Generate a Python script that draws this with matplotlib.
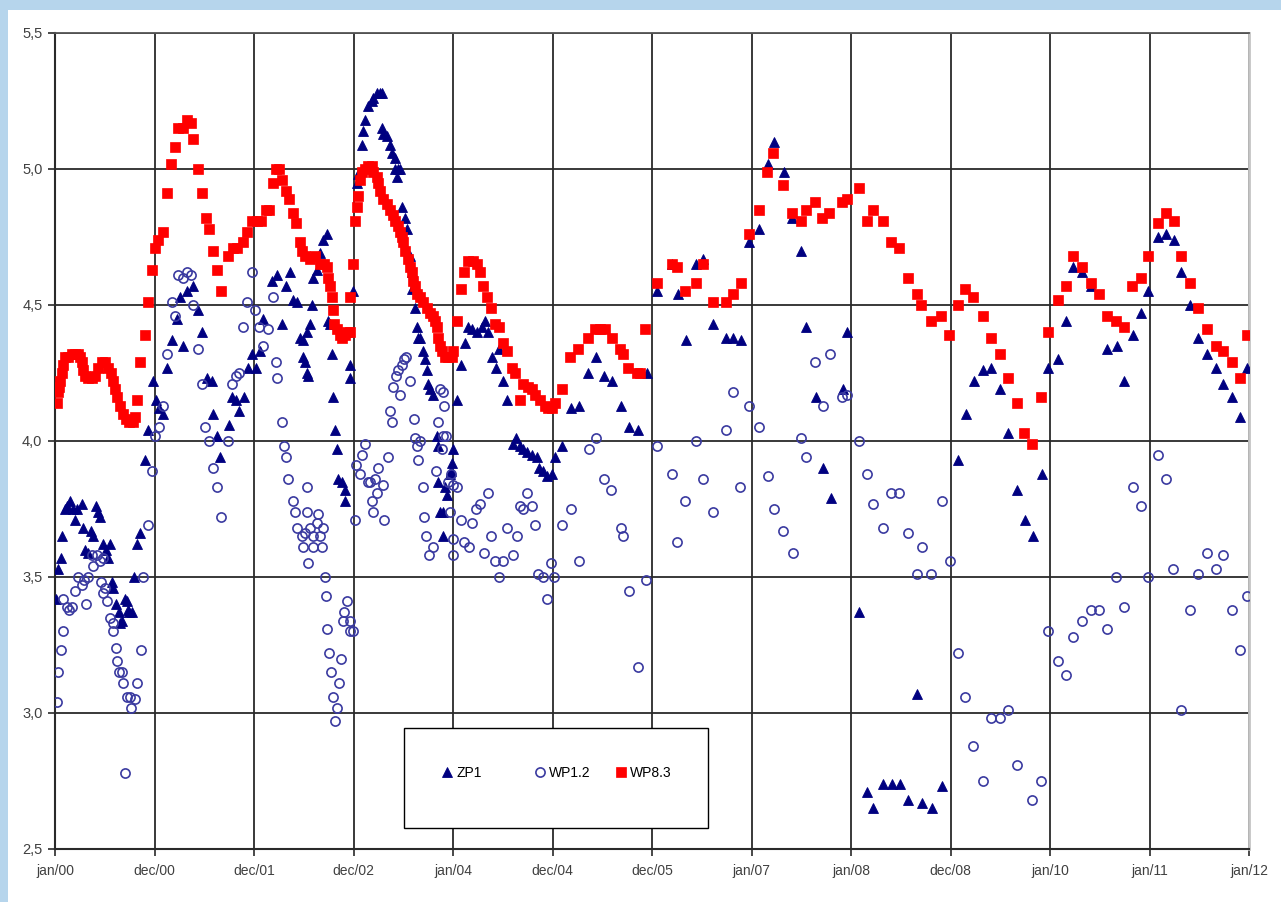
import matplotlib
matplotlib.use("Agg")
import matplotlib.pyplot as plt
from matplotlib.patches import Rectangle
from matplotlib.lines import Line2D
from matplotlib.legend import Legend

plt.rcParams['font.family'] = ['Liberation Sans', 'DejaVu Sans']

# x = years since jan/00, y = level
tick_labels = ["jan/00", "dec/00", "dec/01", "dec/02", "jan/04", "dec/04", "dec/05",
               "jan/07", "jan/08", "dec/08", "jan/10", "jan/11", "jan/12"]
y_ticks = [2.5, 3.0, 3.5, 4.0, 4.5, 5.0, 5.5]
y_tick_labels = ["2,5", "3,0", "3,5", "4,0", "4,5", "5,0", "5,5"]

zp1 = [
    (0.01, 3.42), (0.03, 3.53), (0.06, 3.57), (0.07, 3.65), (0.10, 3.75), (0.12, 3.76), (0.15, 3.78),
    (0.18, 3.75), (0.20, 3.71), (0.22, 3.75), (0.27, 3.77), (0.28, 3.68), (0.30, 3.60), (0.33, 3.59),
    (0.36, 3.67), (0.38, 3.65), (0.41, 3.76), (0.43, 3.74), (0.45, 3.72), (0.48, 3.62), (0.51, 3.60),
    (0.53, 3.57), (0.55, 3.62), (0.57, 3.48), (0.58, 3.46), (0.61, 3.40), (0.64, 3.37), (0.65, 3.33),
    (0.67, 3.34), (0.70, 3.42), (0.72, 3.41), (0.73, 3.38), (0.74, 3.37), (0.77, 3.37), (0.79, 3.50),
    (0.82, 3.62), (0.85, 3.66), (0.90, 3.93), (0.93, 4.04), (0.98, 4.22), (1.02, 4.15), (1.05, 4.12),
    (1.09, 4.10), (1.13, 4.27), (1.18, 4.37), (1.23, 4.45), (1.26, 4.53), (1.29, 4.35), (1.33, 4.55),
    (1.39, 4.57), (1.44, 4.48), (1.48, 4.40), (1.53, 4.23), (1.58, 4.22), (1.59, 4.10), (1.63, 4.02),
    (1.66, 3.94), (1.75, 4.06), (1.78, 4.16), (1.82, 4.15), (1.85, 4.11), (1.90, 4.16), (1.94, 4.27),
    (1.98, 4.32), (2.02, 4.27), (2.06, 4.33), (2.09, 4.45), (2.18, 4.59), (2.23, 4.61), (2.28, 4.43),
    (2.32, 4.57), (2.36, 4.62), (2.39, 4.52), (2.43, 4.51), (2.46, 4.38), (2.49, 4.37), (2.53, 4.40),
    (2.49, 4.31), (2.51, 4.29), (2.53, 4.25), (2.54, 4.24), (2.56, 4.43), (2.58, 4.50), (2.59, 4.60),
    (2.63, 4.63), (2.66, 4.69), (2.69, 4.74), (2.73, 4.76), (2.74, 4.44), (2.76, 4.43), (2.78, 4.32),
    (2.79, 4.16), (2.81, 4.04), (2.83, 3.97), (2.84, 3.86), (2.88, 3.85), (2.91, 3.82), (2.91, 3.78),
    (2.96, 4.28), (2.96, 4.23), (2.99, 4.55), (3.04, 4.95), (3.05, 4.98), (3.09, 5.09), (3.10, 5.14),
    (3.12, 5.18), (3.15, 5.23), (3.19, 5.25), (3.20, 5.26), (3.24, 5.28), (3.27, 5.28), (3.29, 5.28),
    (3.29, 5.15), (3.30, 5.13), (3.34, 5.12), (3.37, 5.09), (3.39, 5.06), (3.42, 5.04), (3.42, 5.00),
    (3.45, 5.00), (3.47, 5.00), (3.44, 4.97), (3.49, 4.86), (3.52, 4.82), (3.54, 4.78), (3.57, 4.68),
    (3.59, 4.62), (3.59, 4.56), (3.62, 4.49), (3.64, 4.42), (3.65, 4.38), (3.67, 4.38), (3.70, 4.33),
    (3.72, 4.30), (3.74, 4.26), (3.75, 4.21), (3.77, 4.19), (3.80, 4.17), (3.84, 4.02), (3.85, 3.98),
    (3.85, 3.85), (3.87, 3.74), (3.90, 3.74), (3.90, 3.65), (3.92, 3.83), (3.94, 3.80), (3.97, 3.88),
    (3.98, 3.89), (3.99, 3.92), (4.00, 3.97), (4.04, 4.15), (4.08, 4.28), (4.12, 4.36), (4.15, 4.42),
    (4.19, 4.41), (4.24, 4.40), (4.29, 4.42), (4.32, 4.44), (4.35, 4.40), (4.39, 4.31), (4.43, 4.27),
    (4.46, 4.34), (4.50, 4.22), (4.54, 4.15), (4.60, 3.99), (4.63, 4.01), (4.67, 3.98), (4.70, 3.97),
    (4.74, 3.96), (4.79, 3.95), (4.84, 3.94), (4.86, 3.90), (4.90, 3.89), (4.94, 3.87), (4.99, 3.88),
    (5.03, 3.94), (5.10, 3.98), (5.19, 4.12), (5.27, 4.13), (5.36, 4.25), (5.44, 4.31), (5.52, 4.24),
    (5.60, 4.22), (5.69, 4.13), (5.77, 4.05), (5.86, 4.04), (5.95, 4.25), (6.05, 4.55), (6.20, 4.65),
    (6.26, 4.54), (6.34, 4.37), (6.44, 4.65), (6.51, 4.67), (6.61, 4.43), (6.74, 4.38), (6.81, 4.38),
    (6.89, 4.37), (6.97, 4.73), (7.08, 4.78), (7.17, 5.02), (7.23, 5.10), (7.33, 4.99), (7.41, 4.82),
    (7.50, 4.70), (7.55, 4.42), (7.65, 4.16), (7.72, 3.90), (7.80, 3.79), (7.92, 4.19), (7.96, 4.40),
    (8.08, 3.37), (8.16, 2.71), (8.22, 2.65), (8.32, 2.74), (8.41, 2.74), (8.49, 2.74), (8.57, 2.68),
    (8.66, 3.07), (8.71, 2.67), (8.81, 2.65), (8.91, 2.73), (9.08, 3.93), (9.16, 4.10), (9.24, 4.22),
    (9.33, 4.26), (9.41, 4.27), (9.50, 4.19), (9.58, 4.03), (9.67, 3.82), (9.75, 3.71), (9.83, 3.65),
    (9.92, 3.88), (9.98, 4.27), (10.08, 4.30), (10.16, 4.44), (10.23, 4.64), (10.32, 4.62), (10.41, 4.57),
    (10.57, 4.34), (10.67, 4.35), (10.74, 4.22), (10.83, 4.39), (10.91, 4.47), (10.98, 4.55), (11.09, 4.75),
    (11.17, 4.76), (11.25, 4.74), (11.32, 4.62), (11.41, 4.50), (11.49, 4.38), (11.58, 4.32), (11.67, 4.27),
    (11.74, 4.21), (11.83, 4.16), (11.91, 4.09), (11.98, 4.27),
]

wp12 = [
    (0.02, 3.04), (0.03, 3.15), (0.06, 3.23), (0.08, 3.30), (0.08, 3.42), (0.12, 3.39), (0.14, 3.38),
    (0.17, 3.39), (0.20, 3.45), (0.23, 3.50), (0.27, 3.47), (0.29, 3.49), (0.31, 3.40), (0.33, 3.50),
    (0.37, 3.58), (0.38, 3.54), (0.42, 3.58), (0.45, 3.56), (0.48, 3.57), (0.46, 3.48), (0.48, 3.44),
    (0.50, 3.46), (0.52, 3.41), (0.55, 3.35), (0.58, 3.33), (0.58, 3.30), (0.61, 3.24), (0.62, 3.19),
    (0.64, 3.15), (0.67, 3.15), (0.68, 3.11), (0.72, 3.06), (0.75, 3.06), (0.76, 3.02), (0.80, 3.05),
    (0.82, 3.11), (0.86, 3.23), (0.70, 2.78), (0.88, 3.50), (0.93, 3.69), (0.97, 3.89), (1.01, 4.02),
    (1.05, 4.05), (1.09, 4.13), (1.13, 4.32), (1.18, 4.51), (1.21, 4.46), (1.24, 4.61), (1.29, 4.60),
    (1.33, 4.62), (1.37, 4.61), (1.39, 4.50), (1.44, 4.34), (1.48, 4.21), (1.51, 4.05), (1.55, 4.00),
    (1.59, 3.90), (1.63, 3.83), (1.67, 3.72), (1.74, 4.00), (1.78, 4.21), (1.82, 4.24), (1.85, 4.25),
    (1.89, 4.42), (1.93, 4.51), (1.98, 4.62), (2.01, 4.48), (2.05, 4.42), (2.09, 4.35), (2.14, 4.41),
    (2.19, 4.53), (2.22, 4.29), (2.23, 4.23), (2.28, 4.07), (2.30, 3.98), (2.32, 3.94), (2.34, 3.86),
    (2.39, 3.78), (2.41, 3.74), (2.43, 3.68), (2.48, 3.65), (2.49, 3.61), (2.51, 3.66), (2.53, 3.83),
    (2.53, 3.74), (2.54, 3.55), (2.56, 3.68), (2.59, 3.65), (2.59, 3.61), (2.63, 3.70), (2.64, 3.73),
    (2.66, 3.65), (2.68, 3.61), (2.69, 3.68), (2.71, 3.50), (2.72, 3.43), (2.73, 3.31), (2.75, 3.22),
    (2.77, 3.15), (2.79, 3.06), (2.81, 2.97), (2.83, 3.02), (2.85, 3.11), (2.87, 3.20), (2.89, 3.34),
    (2.90, 3.37), (2.93, 3.41), (2.96, 3.34), (2.96, 3.30), (2.99, 3.30), (3.02, 3.71), (3.03, 3.91),
    (3.07, 3.88), (3.09, 3.95), (3.12, 3.99), (3.15, 3.85), (3.17, 3.85), (3.19, 3.78), (3.20, 3.74),
    (3.22, 3.86), (3.24, 3.81), (3.25, 3.90), (3.30, 3.84), (3.31, 3.71), (3.35, 3.94), (3.37, 4.11),
    (3.39, 4.07), (3.40, 4.20), (3.43, 4.24), (3.45, 4.26), (3.47, 4.17), (3.49, 4.28), (3.51, 4.30),
    (3.53, 4.31), (3.57, 4.22), (3.61, 4.08), (3.62, 4.01), (3.64, 3.98), (3.67, 4.00), (3.65, 3.93),
    (3.70, 3.83), (3.71, 3.72), (3.73, 3.65), (3.76, 3.58), (3.80, 3.61), (3.83, 3.89), (3.85, 4.07),
    (3.87, 4.19), (3.90, 4.02), (3.90, 4.18), (3.91, 4.13), (3.89, 3.97), (3.93, 4.02), (3.95, 3.85),
    (3.98, 3.88), (4.00, 3.84), (3.97, 3.74), (4.00, 3.64), (4.00, 3.58), (4.04, 3.83), (4.08, 3.71),
    (4.11, 3.63), (4.16, 3.61), (4.19, 3.70), (4.23, 3.75), (4.27, 3.77), (4.31, 3.59), (4.35, 3.81),
    (4.38, 3.65), (4.42, 3.56), (4.46, 3.50), (4.50, 3.56), (4.54, 3.68), (4.60, 3.58), (4.64, 3.65),
    (4.67, 3.76), (4.70, 3.75), (4.74, 3.81), (4.79, 3.76), (4.82, 3.69), (4.85, 3.51), (4.90, 3.50),
    (4.94, 3.42), (4.98, 3.55), (5.02, 3.50), (5.10, 3.69), (5.19, 3.75), (5.27, 3.56), (5.37, 3.97),
    (5.44, 4.01), (5.52, 3.86), (5.59, 3.82), (5.69, 3.68), (5.71, 3.65), (5.77, 3.45), (5.86, 3.17),
    (5.94, 3.49), (6.05, 3.98), (6.20, 3.88), (6.25, 3.63), (6.33, 3.78), (6.44, 4.00), (6.51, 3.86),
    (6.61, 3.74), (6.74, 4.04), (6.81, 4.18), (6.88, 3.83), (6.97, 4.13), (7.08, 4.05), (7.17, 3.87),
    (7.23, 3.75), (7.32, 3.67), (7.42, 3.59), (7.50, 4.01), (7.55, 3.94), (7.64, 4.29), (7.72, 4.13),
    (7.79, 4.32), (7.91, 4.16), (7.96, 4.17), (8.08, 4.00), (8.16, 3.88), (8.22, 3.77), (8.32, 3.68),
    (8.40, 3.81), (8.48, 3.81), (8.57, 3.66), (8.66, 3.51), (8.71, 3.61), (8.80, 3.51), (8.91, 3.78),
    (8.99, 3.56), (9.08, 3.22), (9.15, 3.06), (9.23, 2.88), (9.33, 2.75), (9.41, 2.98), (9.50, 2.98),
    (9.58, 3.01), (9.67, 2.81), (9.82, 2.68), (9.91, 2.75), (9.98, 3.30), (10.08, 3.19), (10.16, 3.14),
    (10.23, 3.28), (10.32, 3.34), (10.41, 3.38), (10.49, 3.38), (10.57, 3.31), (10.66, 3.50), (10.74, 3.39),
    (10.83, 3.83), (10.91, 3.76), (10.98, 3.50), (11.09, 3.95), (11.17, 3.86), (11.24, 3.53), (11.32, 3.01),
    (11.41, 3.38), (11.49, 3.51), (11.58, 3.59), (11.67, 3.53), (11.74, 3.58), (11.83, 3.38), (11.91, 3.23),
    (11.98, 3.43),
]

wp83 = [
    (0.02, 4.14), (0.03, 4.18), (0.04, 4.20), (0.05, 4.22), (0.07, 4.25), (0.08, 4.28), (0.10, 4.31),
    (0.13, 4.31), (0.17, 4.32), (0.20, 4.32), (0.23, 4.32), (0.25, 4.31), (0.27, 4.29), (0.28, 4.26),
    (0.30, 4.24), (0.33, 4.23), (0.37, 4.23), (0.40, 4.24), (0.43, 4.27), (0.47, 4.29), (0.50, 4.29),
    (0.53, 4.27), (0.56, 4.25), (0.58, 4.22), (0.60, 4.19), (0.62, 4.16), (0.65, 4.13), (0.68, 4.10),
    (0.71, 4.08), (0.74, 4.07), (0.78, 4.07), (0.80, 4.09), (0.82, 4.15), (0.85, 4.29), (0.90, 4.39),
    (0.93, 4.51), (0.97, 4.63), (1.01, 4.71), (1.04, 4.74), (1.09, 4.77), (1.13, 4.91), (1.17, 5.02),
    (1.21, 5.08), (1.24, 5.15), (1.29, 5.15), (1.33, 5.18), (1.37, 5.17), (1.39, 5.11), (1.44, 5.00),
    (1.48, 4.91), (1.52, 4.82), (1.55, 4.78), (1.59, 4.70), (1.63, 4.63), (1.67, 4.55), (1.74, 4.68),
    (1.79, 4.71), (1.83, 4.71), (1.89, 4.73), (1.93, 4.77), (1.98, 4.81), (2.03, 4.81), (2.07, 4.81),
    (2.12, 4.85), (2.15, 4.85), (2.19, 4.95), (2.22, 5.00), (2.25, 5.00), (2.28, 4.96), (2.32, 4.92),
    (2.35, 4.89), (2.39, 4.84), (2.42, 4.80), (2.46, 4.73), (2.48, 4.70), (2.51, 4.68), (2.56, 4.67),
    (2.61, 4.68), (2.66, 4.65), (2.70, 4.65), (2.73, 4.64), (2.74, 4.60), (2.76, 4.57), (2.78, 4.53),
    (2.79, 4.48), (2.80, 4.43), (2.83, 4.41), (2.86, 4.39), (2.88, 4.38), (2.91, 4.39), (2.93, 4.40),
    (2.96, 4.40), (2.96, 4.53), (2.99, 4.65), (3.02, 4.81), (3.04, 4.86), (3.05, 4.90), (3.07, 4.96),
    (3.09, 4.99), (3.12, 5.00), (3.15, 5.01), (3.19, 5.01), (3.20, 4.99), (3.24, 4.97), (3.25, 4.95),
    (3.27, 4.92), (3.30, 4.89), (3.34, 4.87), (3.37, 4.85), (3.40, 4.83), (3.42, 4.81), (3.45, 4.79),
    (3.47, 4.77), (3.49, 4.75), (3.50, 4.73), (3.52, 4.70), (3.55, 4.67), (3.57, 4.64), (3.59, 4.62),
    (3.60, 4.59), (3.62, 4.57), (3.64, 4.54), (3.67, 4.53), (3.70, 4.51), (3.74, 4.49), (3.77, 4.47),
    (3.80, 4.46), (3.82, 4.44), (3.84, 4.42), (3.85, 4.38), (3.87, 4.35), (3.89, 4.33), (3.92, 4.31),
    (3.95, 4.31), (3.99, 4.31), (4.00, 4.33), (4.04, 4.44), (4.08, 4.56), (4.11, 4.62), (4.15, 4.66),
    (4.20, 4.66), (4.24, 4.65), (4.27, 4.62), (4.30, 4.57), (4.34, 4.53), (4.38, 4.49), (4.42, 4.43),
    (4.46, 4.42), (4.50, 4.36), (4.54, 4.33), (4.59, 4.27), (4.62, 4.25), (4.67, 4.15), (4.70, 4.21),
    (4.75, 4.20), (4.79, 4.19), (4.82, 4.17), (4.87, 4.15), (4.92, 4.13), (4.95, 4.12), (4.99, 4.12),
    (5.03, 4.14), (5.10, 4.19), (5.18, 4.31), (5.26, 4.34), (5.36, 4.38), (5.43, 4.41), (5.48, 4.41),
    (5.53, 4.41), (5.60, 4.38), (5.68, 4.34), (5.71, 4.32), (5.76, 4.27), (5.85, 4.25), (5.88, 4.25),
    (5.93, 4.41), (6.05, 4.58), (6.20, 4.65), (6.25, 4.64), (6.33, 4.55), (6.44, 4.58), (6.51, 4.65),
    (6.61, 4.51), (6.74, 4.51), (6.81, 4.54), (6.89, 4.58), (6.97, 4.76), (7.08, 4.85), (7.16, 4.99),
    (7.22, 5.06), (7.32, 4.94), (7.41, 4.84), (7.50, 4.81), (7.55, 4.85), (7.64, 4.88), (7.71, 4.82),
    (7.78, 4.84), (7.91, 4.88), (7.96, 4.89), (8.08, 4.93), (8.16, 4.81), (8.22, 4.85), (8.32, 4.81),
    (8.40, 4.73), (8.48, 4.71), (8.57, 4.60), (8.66, 4.54), (8.70, 4.50), (8.80, 4.44), (8.90, 4.46),
    (8.98, 4.39), (9.08, 4.50), (9.15, 4.56), (9.23, 4.53), (9.33, 4.46), (9.41, 4.38), (9.50, 4.32),
    (9.58, 4.23), (9.67, 4.14), (9.74, 4.03), (9.82, 3.99), (9.91, 4.16), (9.98, 4.40), (10.08, 4.52),
    (10.16, 4.57), (10.23, 4.68), (10.32, 4.64), (10.41, 4.58), (10.49, 4.54), (10.57, 4.46), (10.66, 4.44),
    (10.74, 4.42), (10.82, 4.57), (10.91, 4.60), (10.98, 4.68), (11.09, 4.80), (11.17, 4.84), (11.25, 4.81),
    (11.32, 4.68), (11.41, 4.58), (11.49, 4.49), (11.58, 4.41), (11.67, 4.35), (11.74, 4.33), (11.83, 4.29),
    (11.91, 4.23), (11.98, 4.39),
]

series_names = ["ZP1", "WP1.2", "WP8.3"]

W, H = 1281, 902
fig = plt.figure(figsize=(W / 100, H / 100), dpi=100)
fig.patch.set_facecolor('#b6d5ec')
# white chart panel (behind the axes)
panel = Rectangle((8 / W, 0), 1 - 8 / W, 1 - 10 / H, transform=fig.transFigure,
                  facecolor='white', edgecolor='none', zorder=-10)
fig.patches.append(panel)

left, right = 55 / W, 1249 / W
bottom, top = 1 - 849 / H, 1 - 33 / H
ax = fig.add_axes([left, bottom, right - left, top - bottom])
ax.set_zorder(1)
ax.set_facecolor('white')

navy = '#000080'
red = '#ff0000'
circ = '#3a3aa0'

tri_style = dict(linestyle='none', marker='^', markersize=7, color=navy, markeredgewidth=0.6)
circ_style = dict(linestyle='none', marker='o', markersize=6.6, markerfacecolor='none',
                  markeredgecolor=circ, markeredgewidth=1.2)
sq_style = dict(linestyle='none', marker='s', markersize=6.8, color=red, markeredgewidth=0.5)

zx, zy = zip(*zp1)
wx, wy = zip(*wp12)
rx, ry = zip(*wp83)
ax.plot(zx, zy, zorder=3, **tri_style)
ax.plot(wx, wy, zorder=4, **circ_style)
ax.plot(rx, ry, zorder=5, **sq_style)

ax.set_xlim(0, 12)
ax.set_ylim(2.5, 5.5)
ax.set_xticks(range(13))
ax.set_xticklabels(tick_labels)
ax.set_yticks(y_ticks)
ax.set_yticklabels(y_tick_labels)

ax.grid(True, color='#2a2a2a', linewidth=1.3, zorder=1)
ax.set_axisbelow(True)
for s in ['left', 'bottom']:
    ax.spines[s].set_color('#2a2a2a')
    ax.spines[s].set_linewidth(1.5)
ax.spines['top'].set_color('#555555')
ax.spines['top'].set_linewidth(1.3)
ax.spines['right'].set_color('#c4c4c4')
ax.spines['right'].set_linewidth(2)

ax.tick_params(axis='both', direction='out', length=5, width=1.2, color='#2a2a2a',
               labelcolor='#404040', pad=4)
ax.tick_params(axis='y', labelsize=10.5)
ax.tick_params(axis='x', labelsize=10, pad=6)

# legend box
lx0, lx1 = (404 - 55) / 1194, (708 - 55) / 1194
ly0, ly1 = (849 - 828) / 816, (849 - 728) / 816
ax.add_patch(Rectangle((lx0, ly0), lx1 - lx0, ly1 - ly0, transform=ax.transAxes,
                       facecolor='white', edgecolor='black', linewidth=1.0, zorder=6))
handles = [Line2D([], [], **tri_style), Line2D([], [], **circ_style), Line2D([], [], **sq_style)]
entry_x = [0.325, 0.4028, 0.4707]
legend_y = (849 - 773) / 816
for h, name, ex in zip(handles, series_names, entry_x):
    lg = Legend(ax, [h], [name], loc='center left', frameon=False,
                bbox_to_anchor=(ex, legend_y), bbox_transform=ax.transAxes,
                borderpad=0, borderaxespad=0, handlelength=0.6, handletextpad=0.35,
                fontsize=10)
    lg.set_zorder(7)
    ax.add_artist(lg)

fig.savefig('out.png', dpi=100, facecolor=fig.get_facecolor())
